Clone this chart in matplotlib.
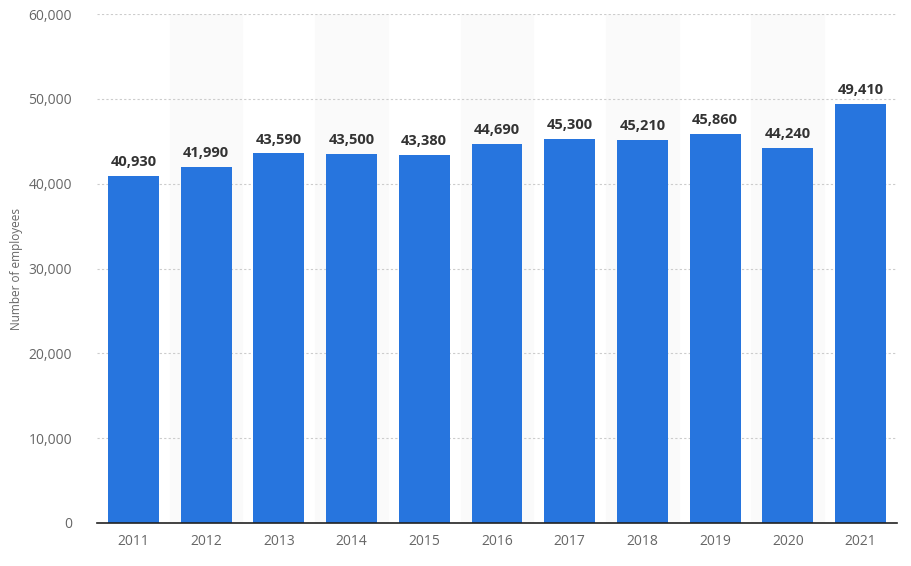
import numpy as np
import matplotlib.pyplot as plt

plt.rcParams['font.family'] = ['Open Sans', 'DejaVu Sans']

years = ['2011', '2012', '2013', '2014', '2015', '2016', '2017', '2018', '2019', '2020', '2021']
employees = [40930, 41990, 43590, 43500, 43380, 44690, 45300, 45210, 45860, 44240, 49410]
yticks = [0, 10000, 20000, 30000, 40000, 50000, 60000]

fig = plt.figure(figsize=(9.11, 5.66), dpi=100)
ax = fig.add_axes([0.1065, 0.076, 0.878, 0.899])

x = np.arange(len(years))

# bandas alternas de fondo
for i in x:
    if i % 2 == 1:
        ax.axvspan(i - 0.5, i + 0.5, color='#fafafa', zorder=0)

ax.bar(x, employees, width=0.7, color='#2775de', zorder=3)

for xi, v in zip(x, employees):
    ax.text(xi, v + 800, f'{v:,}', ha='center', va='bottom',
            fontsize=10.5, fontweight='bold', color='#333333', zorder=4)

ax.set_xlim(-0.5, len(years) - 0.5)
ax.set_ylim(0, 60000)
ax.set_xticks(x)
ax.set_xticklabels(years)
ax.set_yticks(yticks)
ax.set_yticklabels([f'{t:,}' for t in yticks])
ax.tick_params(axis='both', length=0, labelsize=10, colors='#666666')
ax.tick_params(axis='y', pad=18)
ax.tick_params(axis='x', pad=8)

ax.grid(axis='y', linestyle=(0, (2, 2)), color='#cccccc', linewidth=0.8, zorder=1)
for s in ['top', 'right', 'left']:
    ax.spines[s].set_visible(False)
ax.spines['bottom'].set_color('#222222')
ax.spines['bottom'].set_linewidth(1.2)
ax.spines['bottom'].set_zorder(5)

ax.set_ylabel('Number of employees', fontsize=8.5, color='#666666', labelpad=4)

plt.savefig('out.png', dpi=100)
